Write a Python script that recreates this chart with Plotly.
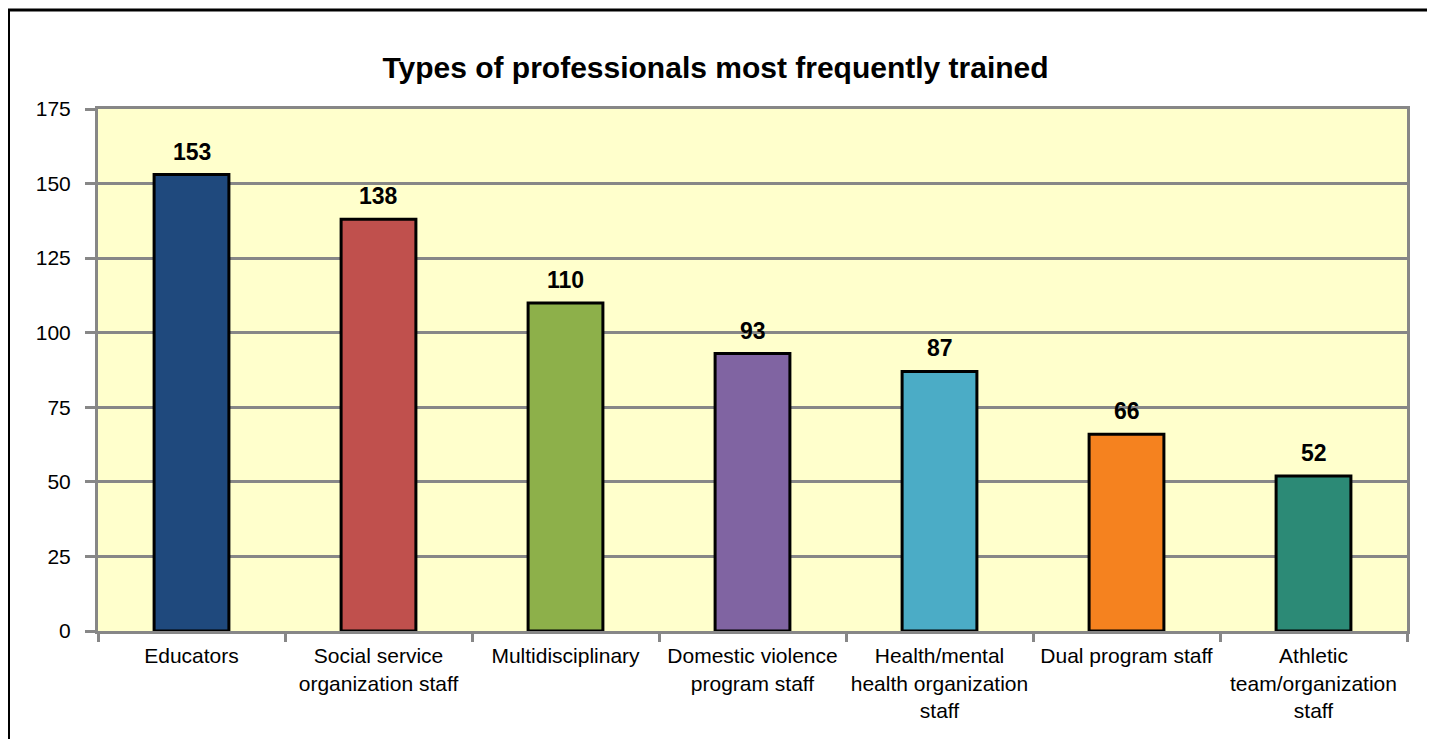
import plotly.graph_objects as go

categories = ["Educators", "Social service<br>organization staff", "Multidisciplinary",
              "Domestic violence<br>program staff", "Health/mental<br>health organization<br>staff",
              "Dual program staff", "Athletic<br>team/organization<br>staff"]
values = [153, 138, 110, 93, 87, 66, 52]
colors = ["#1F497D", "#C0504D", "#8DB04A", "#8064A2", "#4BACC6", "#F5821F", "#2C8A76"]
y_ticks = [0, 25, 50, 75, 100, 125, 150, 175]

FONT = "Liberation Sans, Arial, sans-serif"
GRAY = "#878787"

W, H = 1427, 731
L, R, T, B = 90, 28, 101, 108
PW, PH = W - L - R, H - T - B

fig = go.Figure(go.Bar(
    x=categories, y=values,
    marker=dict(color=colors, line=dict(color="black", width=3)),
    width=0.40,
    cliponaxis=False,
))

for c, v in zip(categories, values):
    fig.add_annotation(x=c, y=v, text="<b>%d</b>" % v, showarrow=False,
                       yanchor="bottom", yshift=8,
                       font=dict(family=FONT, size=23, color="black"))

fig.update_layout(
    width=W, height=H,
    margin=dict(l=L, r=R, t=T, b=B, autoexpand=False),
    paper_bgcolor="white", plot_bgcolor="#FFFFCC",
    showlegend=False,
    title=dict(text="<b>Types of professionals most frequently trained</b>",
               x=0.5 - 6 / W, xanchor="center", y=1 - 59 / H, yanchor="middle",
               font=dict(family=FONT, size=30, color="black")),
    font=dict(family=FONT, size=21, color="black"),
)
fig.update_xaxes(type="category", tickson="boundaries", ticks="outside", ticklen=8,
                 tickwidth=3, tickcolor=GRAY, showline=True, linecolor=GRAY, linewidth=3,
                 mirror=True, showgrid=False, tickangle=0, automargin=False,
                 ticklabelstandoff=4,
                 tickfont=dict(family=FONT, size=21, color="black"))
fig.update_yaxes(range=[0, 175], tickvals=y_ticks, ticks="outside", ticklen=10, tickwidth=3,
                 tickcolor=GRAY, showline=True, linecolor=GRAY, linewidth=3, mirror=True,
                 showgrid=True, gridcolor=GRAY, gridwidth=3, zeroline=False, automargin=False,
                 ticklabelstandoff=10,
                 tickfont=dict(family=FONT, size=21, color="black"))

# outer chart border (extends off the right and bottom of the view)
fig.add_shape(type="rect", xref="paper", yref="paper",
              x0=(0.5 - L) / PW, x1=1.2, y0=-0.5, y1=(PH + T - 2) / PH,
              line=dict(color="black", width=3), layer="below")

fig.write_html("out.html")
